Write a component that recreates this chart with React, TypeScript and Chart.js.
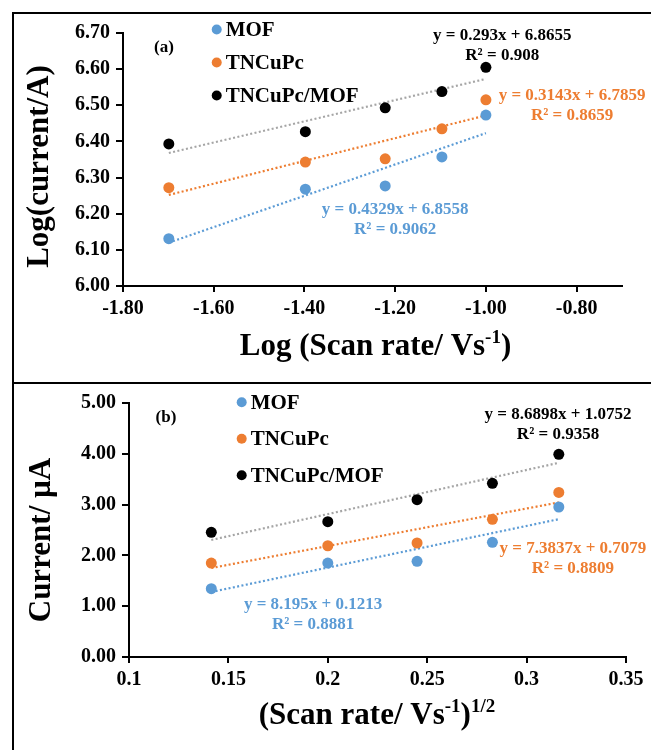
import { useEffect, useRef } from "react";
import { Chart, registerables } from "chart.js";

Chart.register(...registerables);

// ---------- shared ----------
const seriesNames = ["MOF", "TNCuPc", "TNCuPc/MOF"];
const seriesColors = ["#5B9BD5", "#ED7D31", "#000000"];
const trendColors = ["#5B9BD5", "#ED7D31", "#A5A5A5"];
const FONT = "'Liberation Serif', 'Times New Roman', serif";

// ---------- panel (a) ----------
const logScanRate = [-1.699, -1.398, -1.222, -1.097, -1.0];
const logCurrentMOF = [6.131, 6.268, 6.277, 6.357, 6.473];
const logCurrentTNCuPc = [6.272, 6.343, 6.352, 6.435, 6.515];
const logCurrentComposite = [6.393, 6.427, 6.493, 6.538, 6.605];
const trendAStart = [6.12, 6.252, 6.368];
const trendAEnd = [6.423, 6.472, 6.573];
const equationsA = [
  ["y = 0.4329x + 6.8558", "R² = 0.9062"],
  ["y = 0.3143x + 6.7859", "R² = 0.8659"],
  ["y = 0.293x + 6.8655", "R² = 0.908"],
];
const equationAnchorsA = [
  [-1.2, 6.21],
  [-0.81, 6.526],
  [-0.964, 6.692],
];

// ---------- panel (b) ----------
const sqrtScanRate = [0.1414, 0.2, 0.2449, 0.2828, 0.3162];
const currentMOF = [1.345, 1.85, 1.883, 2.257, 2.953];
const currentTNCuPc = [1.85, 2.19, 2.244, 2.71, 3.24];
const currentComposite = [2.454, 2.664, 3.097, 3.419, 3.99];
const trendBStart = [1.28, 1.752, 2.304];
const trendBEnd = [2.713, 3.043, 3.823];
const equationsB = [
  ["y = 8.195x + 0.1213", "R² = 0.8881"],
  ["y = 7.3837x + 0.7079", "R² = 0.8809"],
  ["y = 8.6898x + 1.0752", "R² = 0.9358"],
];
const equationAnchorsB = [
  [0.1926, 1.024],
  [0.3233, 2.126],
  [0.3158, 4.764],
];

type Part = { text: string; sup?: boolean };

function drawRich(ctx: CanvasRenderingContext2D, parts: Part[], cx: number, baseline: number, size: number) {
  const supSize = Math.round(size * 0.6);
  let total = 0;
  const widths = parts.map((p) => {
    ctx.font = `bold ${p.sup ? supSize : size}px ${FONT}`;
    const w = ctx.measureText(p.text).width;
    total += w;
    return w;
  });
  let x = cx - total / 2;
  ctx.textAlign = "left";
  ctx.textBaseline = "alphabetic";
  parts.forEach((p, i) => {
    ctx.font = `bold ${p.sup ? supSize : size}px ${FONT}`;
    ctx.fillText(p.text, x, p.sup ? baseline - size * 0.38 : baseline);
    x += widths[i];
  });
}

type PanelCfg = {
  xs: number[];
  ys: number[][];
  trendStart: number[];
  trendEnd: number[];
  equations: string[][];
  anchors: number[][];
  xMin: number;
  xMax: number;
  xStep: number;
  yMin: number;
  yMax: number;
  yStep: number;
  xFmt: (v: number) => string;
  yFmt: (v: number) => string;
  height: number;
  padding: { left: number; right: number; top: number; bottom: number };
  label: string;
  labelPos: [number, number];
  legendPos: [number, number, number];
  xTitle: Part[];
  xTitlePos: [number, number];
  yTitle: string;
  yTitlePos: [number, number];
};

function Panel({ cfg, top }: { cfg: PanelCfg; top: number }) {
  const ref = useRef<HTMLCanvasElement | null>(null);
  useEffect(() => {
    if (!ref.current) return;
    const tickFont = { family: FONT, size: 20, weight: "bold" as const };
    const pointSets = cfg.ys.map((ys, i) => ({
      label: seriesNames[i],
      data: cfg.xs.map((x, j) => ({ x, y: ys[j] })),
      backgroundColor: seriesColors[i],
      borderColor: seriesColors[i],
      pointRadius: 5.5,
      pointBorderWidth: 0,
      showLine: false,
    }));
    const trendSets = cfg.trendStart.map((s, i) => ({
      label: seriesNames[i] + " trend",
      data: [
        { x: cfg.xs[0], y: s },
        { x: cfg.xs[cfg.xs.length - 1], y: cfg.trendEnd[i] },
      ],
      borderColor: trendColors[i],
      borderWidth: 2.2,
      borderDash: [2, 2.4],
      pointRadius: 0,
      showLine: true,
      fill: false,
    }));
    const textPlugin = {
      id: "texts",
      afterDraw(chart: any) {
        const ctx: CanvasRenderingContext2D = chart.ctx;
        const xs = chart.scales.x;
        const ys = chart.scales.y;
        ctx.save();
        // equations
        cfg.equations.forEach((lines, i) => {
          const px = xs.getPixelForValue(cfg.anchors[i][0]);
          const py = ys.getPixelForValue(cfg.anchors[i][1]);
          ctx.fillStyle = seriesColors[i];
          ctx.font = `bold 17px ${FONT}`;
          ctx.textAlign = "center";
          ctx.textBaseline = "middle";
          lines.forEach((t, k) => ctx.fillText(t, px, py + k * 19.5));
        });
        // legend
        const [lx, ly, gap] = cfg.legendPos;
        seriesNames.forEach((n, i) => {
          ctx.fillStyle = seriesColors[i];
          ctx.beginPath();
          ctx.arc(lx, ly + i * gap, 5, 0, Math.PI * 2);
          ctx.fill();
          ctx.fillStyle = "#000";
          ctx.font = `bold 21px ${FONT}`;
          ctx.textAlign = "left";
          ctx.textBaseline = "middle";
          ctx.fillText(n, lx + 9, ly + i * gap + 1);
        });
        // panel label
        ctx.fillStyle = "#000";
        ctx.font = `bold 17px ${FONT}`;
        ctx.textAlign = "center";
        ctx.textBaseline = "middle";
        ctx.fillText(cfg.label, cfg.labelPos[0], cfg.labelPos[1]);
        // x title
        drawRich(ctx, cfg.xTitle, cfg.xTitlePos[0], cfg.xTitlePos[1], 31);
        // y title
        ctx.save();
        ctx.translate(cfg.yTitlePos[0], cfg.yTitlePos[1]);
        ctx.rotate(-Math.PI / 2);
        ctx.font = `bold 31px ${FONT}`;
        ctx.textAlign = "center";
        ctx.textBaseline = "alphabetic";
        ctx.fillText(cfg.yTitle, 0, 0);
        ctx.restore();
        ctx.restore();
      },
    };
    const chart = new Chart(ref.current, {
      type: "scatter",
      data: { datasets: [...pointSets, ...trendSets] as any },
      options: {
        animation: false,
        responsive: false,
        maintainAspectRatio: false,
        devicePixelRatio: 1,
        layout: { padding: cfg.padding },
        plugins: { legend: { display: false }, tooltip: { enabled: false } },
        scales: {
          x: {
            type: "linear",
            min: cfg.xMin,
            max: cfg.xMax,
            afterFit: (s: any) => {
              s.height = 60;
            },
            ticks: {
              stepSize: cfg.xStep,
              includeBounds: false,
              color: "#000",
              font: tickFont,
              padding: 5,
              maxRotation: 0,
              autoSkip: false,
              callback: (v: any) => cfg.xFmt(Number(v)),
            },
            grid: { drawOnChartArea: false, drawTicks: true, tickLength: 6, color: "#000", lineWidth: 2 },
            border: { display: true, color: "#000", width: 2 },
          },
          y: {
            type: "linear",
            min: cfg.yMin,
            max: cfg.yMax,
            afterFit: (s: any) => {
              s.width = 60;
            },
            ticks: {
              stepSize: cfg.yStep,
              includeBounds: false,
              color: "#000",
              font: tickFont,
              padding: 6,
              autoSkip: false,
              callback: (v: any) => cfg.yFmt(Number(v)),
            },
            grid: { drawOnChartArea: false, drawTicks: true, tickLength: 7, color: "#000", lineWidth: 2 },
            border: { display: true, color: "#000", width: 2 },
          },
        },
      },
      plugins: [textPlugin],
    });
    return () => chart.destroy();
  }, [cfg]);
  return (
    <canvas
      ref={ref}
      width={651}
      height={cfg.height}
      style={{ position: "absolute", left: 0, top, width: 651, height: cfg.height }}
    />
  );
}

const cfgA: PanelCfg = {
  xs: logScanRate,
  ys: [logCurrentMOF, logCurrentTNCuPc, logCurrentComposite],
  trendStart: trendAStart,
  trendEnd: trendAEnd,
  equations: equationsA,
  anchors: equationAnchorsA,
  xMin: -1.8,
  xMax: -0.7,
  xStep: 0.2,
  yMin: 6.0,
  yMax: 6.7,
  yStep: 0.1,
  xFmt: (v) => v.toFixed(2),
  yFmt: (v) => v.toFixed(2),
  height: 383,
  padding: { left: 63, right: 29, top: 33, bottom: 37 },
  label: "(a)",
  labelPos: [164, 48],
  legendPos: [216.7, 29.5, 33],
  xTitle: [{ text: "Log (Scan rate/ Vs" }, { text: "-1", sup: true }, { text: ")" }],
  xTitlePos: [375.5, 355],
  yTitle: "Log(current/A)",
  yTitlePos: [48, 166.5],
};

const cfgB: PanelCfg = {
  xs: sqrtScanRate,
  ys: [currentMOF, currentTNCuPc, currentComposite],
  trendStart: trendBStart,
  trendEnd: trendBEnd,
  equations: equationsB,
  anchors: equationAnchorsB,
  xMin: 0.1,
  xMax: 0.35,
  xStep: 0.05,
  yMin: 0,
  yMax: 5,
  yStep: 1,
  xFmt: (v) => String(Number(v.toFixed(2))),
  yFmt: (v) => v.toFixed(2),
  height: 367,
  padding: { left: 69, right: 25, top: 20, bottom: 33 },
  label: "(b)",
  labelPos: [166, 35],
  legendPos: [241.7, 19.3, 36.5],
  xTitle: [
    { text: "(Scan rate/ Vs" },
    { text: "-1", sup: true },
    { text: ")" },
    { text: "1/2", sup: true },
  ],
  xTitlePos: [377, 341],
  yTitle: "Current/ µA",
  yTitlePos: [50, 157],
};

export default function App() {
  return (
    <div style={{ position: "absolute", left: 0, top: 0, width: 651, height: 750, background: "#fff", overflow: "hidden" }}>
      <Panel cfg={cfgA} top={0} />
      <Panel cfg={cfgB} top={383} />
      <div style={{ position: "absolute", left: 12, top: 12, width: 639, height: 2, background: "#000" }} />
      <div style={{ position: "absolute", left: 12, top: 382, width: 639, height: 2, background: "#000" }} />
      <div style={{ position: "absolute", left: 12, top: 12, width: 2, height: 738, background: "#000" }} />
    </div>
  );
}
